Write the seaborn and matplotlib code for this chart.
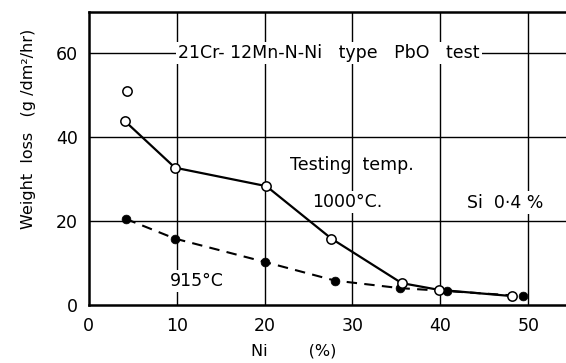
import pandas as pd
import seaborn as sns
import matplotlib
matplotlib.use('Agg')
import matplotlib.pyplot as plt

# 1000 C series (open circles)
ni_1000 = [4.1, 9.8, 20.2, 27.6, 35.6, 39.8, 48.2]
loss_1000 = [43.8, 32.7, 28.3, 15.8, 5.2, 3.6, 2.1]
# extra point at ~4% Ni not on the line
ni_extra = [4.3]
loss_extra = [51.0]

# 915 C series (filled circles)
ni_915 = [4.2, 9.8, 20.1, 28.0, 35.4, 40.8, 49.4]
loss_915 = [20.5, 15.8, 10.2, 5.8, 4.0, 3.3, 2.1]

x_ticks = [0, 10, 20, 30, 40, 50]
y_ticks = [0, 20, 40, 60]

sns.set_style('white')
plt.rcParams['font.family'] = ['DejaVu Sans']
plt.rcParams['text.color'] = 'black'
plt.rcParams['axes.labelcolor'] = 'black'

fig = plt.figure(figsize=(5.66, 3.63), dpi=100)
ax = fig.add_axes([0.157, 0.160, 0.843, 0.807])

df_1000 = pd.DataFrame({'Ni': ni_1000, 'loss': loss_1000})
df_915 = pd.DataFrame({'Ni': ni_915, 'loss': loss_915})

# grid lines drawn by hand so they sit under the text boxes
for xv in x_ticks[1:]:
    ax.axvline(xv, color='black', lw=1.0, zorder=1)
for yv in y_ticks[1:]:
    ax.axhline(yv, color='black', lw=1.0, zorder=1)

sns.lineplot(data=df_915, x='Ni', y='loss', ax=ax, color='black', lw=1.5,
             linestyle=(0, (5, 3.5)), zorder=3)
sns.scatterplot(data=df_915, x='Ni', y='loss', ax=ax, color='black', s=40,
                edgecolor='black', zorder=4)
sns.lineplot(data=df_1000, x='Ni', y='loss', ax=ax, color='black', lw=1.6, zorder=3)
sns.scatterplot(data=df_1000, x='Ni', y='loss', ax=ax, color='white', s=45,
                edgecolor='black', linewidth=1.1, zorder=5)
sns.scatterplot(x=ni_extra, y=loss_extra, ax=ax, color='white', s=45,
                edgecolor='black', linewidth=1.1, zorder=5)

box = dict(facecolor='white', edgecolor='none', pad=1.5)
fs = 12.5
ax.text(10.2, 60, '21Cr- 12Mn-N-Ni   type   PbO   test', fontsize=fs,
        va='center', ha='left', bbox=box, zorder=6)
ax.text(22.9, 33.3, 'Testing  temp.', fontsize=fs, va='center', ha='left', zorder=6)
ax.text(25.4, 24.6, '1000°C.', fontsize=fs, va='center', ha='left', bbox=box, zorder=6)
ax.text(43.0, 24.4, 'Si  0·4 %', fontsize=fs, va='center', ha='left', bbox=box, zorder=6)
ax.text(9.2, 5.7, '915°C', fontsize=fs, va='center', ha='left', bbox=box, zorder=6)

ax.set_xlim(0, 54.3)
ax.set_ylim(0, 69.8)
ax.set_xticks(x_ticks)
ax.set_yticks(y_ticks)
ax.tick_params(axis='both', length=0, labelsize=12.5, colors='black')
ax.tick_params(axis='x', pad=9)
ax.tick_params(axis='y', pad=8)

ax.set_xlabel('Ni        (%)', fontsize=11.5)
ax.xaxis.set_label_coords(0.43, -0.13)
ax.set_ylabel('Weight  loss   (g /dm²/hr)', fontsize=11.5)
ax.yaxis.set_label_coords(-0.11, 0.60)

for side in ['left', 'bottom', 'top']:
    ax.spines[side].set_linewidth(1.8)
    ax.spines[side].set_color('black')
ax.spines['right'].set_visible(False)

fig.savefig('out.png', dpi=100)
